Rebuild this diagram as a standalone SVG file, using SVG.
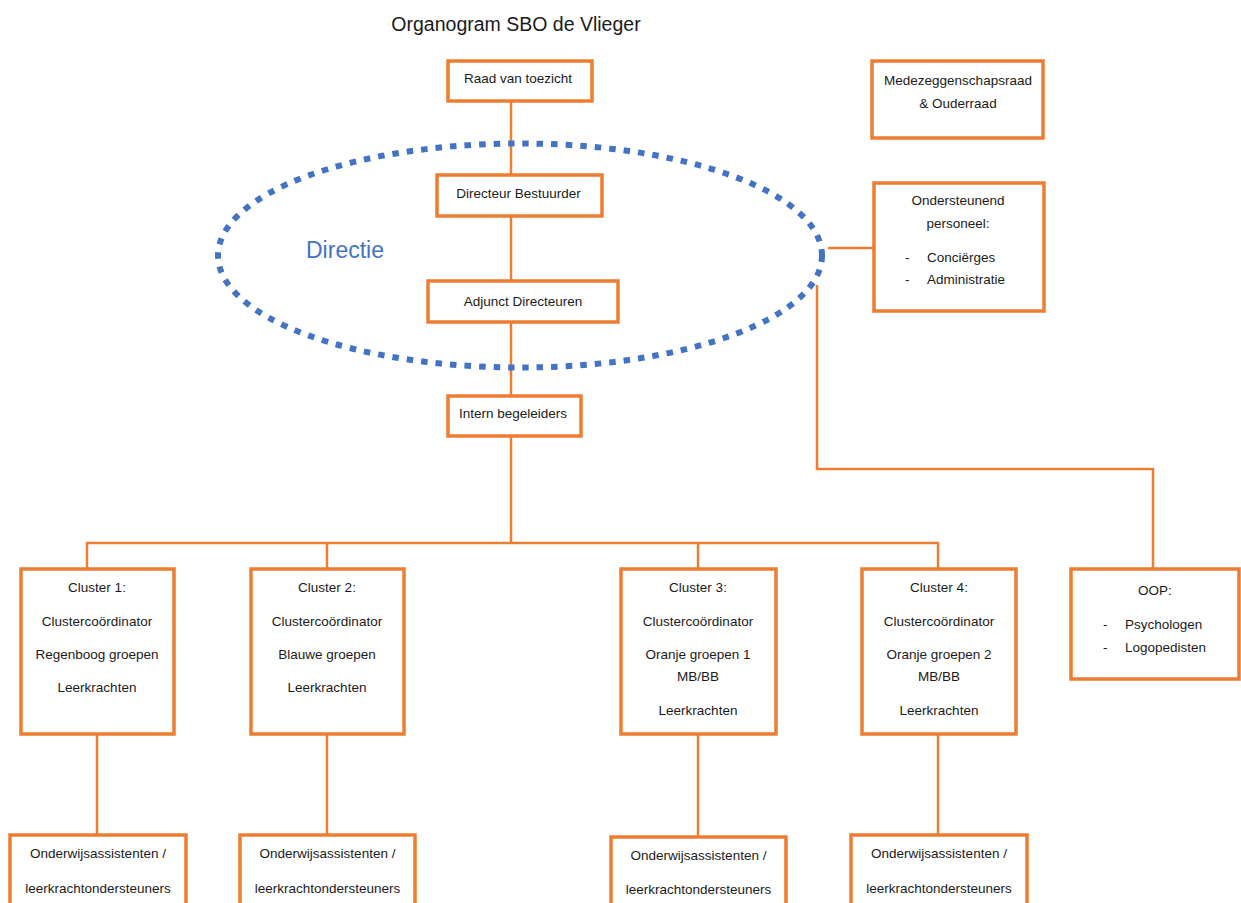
<svg xmlns="http://www.w3.org/2000/svg" width="1241" height="903" viewBox="0 0 1241 903">
<style>
.box{fill:#fff;stroke:#ED7D31;stroke-width:3.5}
.ln{fill:none;stroke:#ED7D31;stroke-width:2.5}
.t{font-family:"Liberation Sans",Arial,sans-serif;font-size:13.5px;fill:#1a1a1a;text-anchor:middle}
.s{font-family:"Liberation Sans",Arial,sans-serif;font-size:13.5px;fill:#1a1a1a;text-anchor:start}
</style>
<rect width="1241" height="903" fill="#fff"/>
<text x="516" y="31" style="font-family:'Liberation Sans',Arial,sans-serif;font-size:19.5px;fill:#1a1a1a;text-anchor:middle">Organogram SBO de Vlieger</text>
<g id="connectors">
<path class="ln" d="M511 101V175M511 216V281M511 322V396M511 436V543"/>
<path class="ln" d="M87 569V543H938V569M327 543V569M698 543V569"/>
<path class="ln" d="M828 248H874"/>
<path class="ln" d="M817 285V469H1153V569"/>
<path class="ln" d="M97 734V835M327 734V835M698 734V837M938 734V835"/>
</g>
<g id="directie">
<ellipse cx="520" cy="255.5" rx="302" ry="112" fill="none" stroke="#4472C4" stroke-width="6" stroke-dasharray="6.5 8"/>
<text x="306" y="258" style="font-family:'Liberation Sans',Arial,sans-serif;font-size:23px;fill:#4472C4">Directie</text>
</g>
<g id="raad"><rect class="box" x="448" y="61" width="144" height="40"/><text class="t" x="518" y="83">Raad van toezicht</text></g>
<g id="directeur"><rect class="box" x="437" y="175" width="165" height="41"/><text class="t" x="518.5" y="198">Directeur Bestuurder</text></g>
<g id="adjunct"><rect class="box" x="428" y="281" width="190" height="41"/><text class="t" x="523" y="306">Adjunct Directeuren</text></g>
<g id="intern"><rect class="box" x="448" y="396" width="133" height="40"/><text class="t" x="513" y="418">Intern begeleiders</text></g>
<g id="mr"><rect class="box" x="872" y="61" width="171" height="77"/><text class="t" x="958" y="85">Medezeggenschapsraad</text><text class="t" x="958" y="108">&amp; Ouderraad</text></g>
<g id="ondersteunend"><rect class="box" x="874" y="183" width="170" height="128"/>
<text class="t" x="958" y="205">Ondersteunend</text><text class="t" x="958" y="228">personeel:</text>
<text class="s" x="905" y="262">-</text><text class="s" x="927" y="262">Conciërges</text>
<text class="s" x="905" y="284">-</text><text class="s" x="927" y="284">Administratie</text></g>
<g id="cluster1"><rect class="box" x="21" y="569" width="153" height="165"/>
<text class="t" x="97" y="592">Cluster 1:</text><text class="t" x="97" y="626">Clustercoördinator</text><text class="t" x="97" y="659">Regenboog groepen</text><text class="t" x="97" y="692">Leerkrachten</text></g>
<g id="cluster2"><rect class="box" x="251" y="569" width="153" height="165"/>
<text class="t" x="327" y="592">Cluster 2:</text><text class="t" x="327" y="626">Clustercoördinator</text><text class="t" x="327" y="659">Blauwe groepen</text><text class="t" x="327" y="692">Leerkrachten</text></g>
<g id="cluster3"><rect class="box" x="621" y="569" width="155" height="165"/>
<text class="t" x="698" y="592">Cluster 3:</text><text class="t" x="698" y="626">Clustercoördinator</text><text class="t" x="698" y="659">Oranje groepen 1</text><text class="t" x="698" y="681">MB/BB</text><text class="t" x="698" y="715">Leerkrachten</text></g>
<g id="cluster4"><rect class="box" x="862" y="569" width="154" height="165"/>
<text class="t" x="939" y="592">Cluster 4:</text><text class="t" x="939" y="626">Clustercoördinator</text><text class="t" x="939" y="659">Oranje groepen 2</text><text class="t" x="939" y="681">MB/BB</text><text class="t" x="939" y="715">Leerkrachten</text></g>
<g id="oop"><rect class="box" x="1071" y="569" width="168" height="110"/>
<text class="t" x="1155" y="595">OOP:</text>
<text class="s" x="1103" y="629">-</text><text class="s" x="1125" y="629">Psychologen</text>
<text class="s" x="1103" y="652">-</text><text class="s" x="1125" y="652">Logopedisten</text></g>
<g id="oa1"><rect class="box" x="10" y="835" width="176" height="80"/><text class="t" x="98" y="858">Onderwijsassistenten /</text><text class="t" x="98" y="893">leerkrachtondersteuners</text></g>
<g id="oa2"><rect class="box" x="240" y="835" width="175" height="80"/><text class="t" x="327.5" y="858">Onderwijsassistenten /</text><text class="t" x="327.5" y="893">leerkrachtondersteuners</text></g>
<g id="oa3"><rect class="box" x="611" y="837" width="175" height="80"/><text class="t" x="698.5" y="860">Onderwijsassistenten /</text><text class="t" x="698.5" y="894">leerkrachtondersteuners</text></g>
<g id="oa4"><rect class="box" x="851" y="835" width="176" height="80"/><text class="t" x="939" y="858">Onderwijsassistenten /</text><text class="t" x="939" y="893">leerkrachtondersteuners</text></g>
</svg>
